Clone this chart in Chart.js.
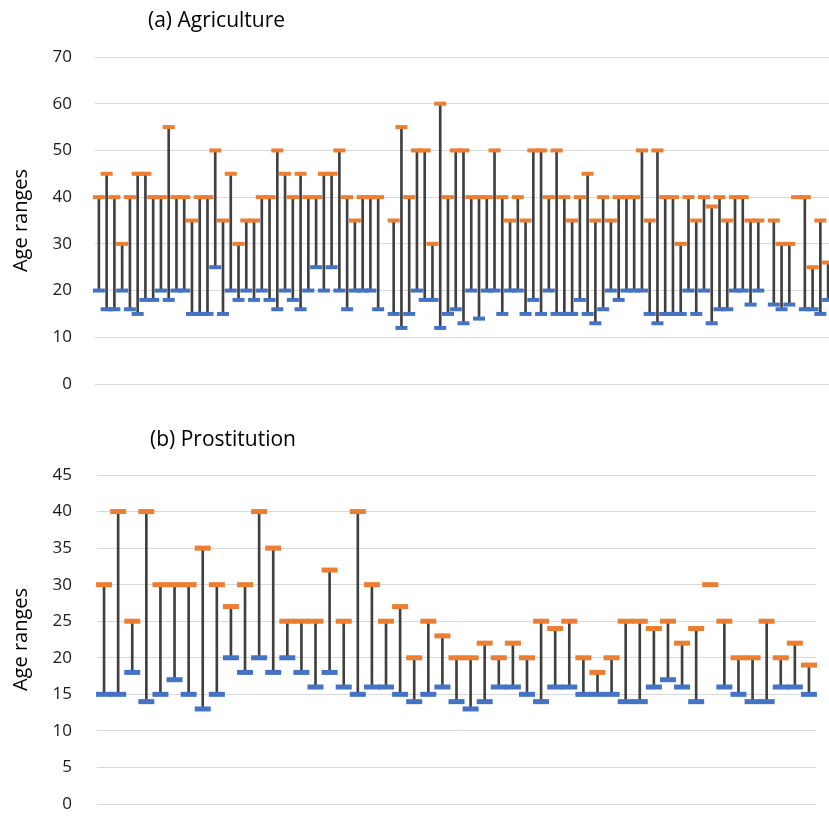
<!DOCTYPE html>
<html><head><meta charset="utf-8">
<script src="https://cdn.jsdelivr.net/npm/chart.js@4"></script>
<style>
html,body{margin:0;padding:0;overflow:hidden;background:#fff;width:829px;height:817px;position:relative;}
.t{position:absolute;font-family:'Open Sans',Lato,sans-serif;font-size:21px;color:#000;white-space:nowrap;line-height:26px;}
#ca{position:absolute;left:0;top:0;}
#cb{position:absolute;left:0;top:420px;}
</style></head><body>
<canvas id="ca" width="845" height="396"></canvas>
<canvas id="cb" width="829" height="397"></canvas>
<div class="t" style="left:148px;top:6px">(a) Agriculture</div>
<div class="t" style="left:150px;top:425px">(b) Prostitution</div>
<script>
// ---- Data: (a) Agriculture ----
const agriHigh = [40,45,40,30,40,45,45,40,40,55,40,40,35,40,40,50,35,45,30,35,35,40,40,50,45,40,45,40,40,45,45,50,
  40,35,40,40,40,null,35,55,40,50,50,30,60,40,50,50,40,40,40,50,40,35,40,35,50,50,40,50,40,35,
  40,45,35,40,35,40,40,40,50,35,50,40,40,30,40,35,40,38,40,35,40,40,35,35,null,35,30,30,40,40,25,35,26];
const agriLow = [20,16,16,20,16,15,18,18,20,18,20,20,15,15,15,25,15,20,18,20,18,20,18,16,20,18,16,20,25,20,25,20,
  16,20,20,20,16,null,15,12,15,20,18,18,12,15,16,13,20,14,20,20,15,20,20,15,18,15,20,15,15,15,
  18,15,13,16,20,18,20,20,20,15,13,15,15,15,20,15,20,13,16,16,20,20,17,20,null,17,16,17,null,16,16,15,18];
const agriCategories = agriHigh.map((_, i) => String(i + 1));
const agriTicks = [0,10,20,30,40,50,60,70];

// ---- Data: (b) Prostitution ----
const prosHigh = [30,40,25,40,30,30,30,35,30,27,30,40,35,25,25,25,32,25,40,30,25,27,20,25,23,20,20,22,20,22,20,25,24,25,20,18,20,25,25,24,25,22,24,30,25,20,20,25,20,22,19];
const prosLow  = [15,15,18,14,15,17,15,13,15,20,18,20,18,20,18,16,18,16,15,16,16,15,14,15,16,14,13,14,16,16,15,14,16,16,15,15,15,14,14,16,17,16,14,null,16,15,14,14,16,16,15];
const prosCategories = prosHigh.map((_, i) => String(i + 1));
const prosTicks = [0,5,10,15,20,25,30,35,40,45];

const HI = '#ED7D31', LO = '#4472C4', STEM = '#404040', GRID = '#d9d9d9';
const FONT = "'Open Sans'";

function ranges(lo, hi){ return lo.map((l, i) => (l != null && hi[i] != null) ? [l, hi[i]] : null); }

function makeChart(id, cats, lo, hi, ticks, opt){
  return new Chart(document.getElementById(id), {
    type: 'bar',
    data: {
      labels: cats,
      datasets: [
        {type:'bar', data: ranges(lo, hi), backgroundColor: STEM, borderWidth:0, barThickness:2, order:3},
        {type:'line', data: lo, showLine:false, pointStyle:'line', pointRadius:opt.r, pointHoverRadius:opt.r,
          pointBorderWidth:opt.w, pointHoverBorderWidth:opt.w, pointBorderColor:LO, pointBackgroundColor:LO, borderColor:LO, order:2},
        {type:'line', data: hi, showLine:false, pointStyle:'line', pointRadius:opt.r, pointHoverRadius:opt.r,
          pointBorderWidth:opt.w, pointHoverBorderWidth:opt.w, pointBorderColor:HI, pointBackgroundColor:HI, borderColor:HI, order:1}
      ]
    },
    options: {
      responsive:false, animation:false,
      layout:{padding:opt.pad},
      plugins:{legend:{display:false}, tooltip:{enabled:false}, title:{display:false}},
      scales:{
        x:{display:false, offset:true, grid:{display:false}},
        y:{min:ticks[0], max:ticks[ticks.length-1],
          ticks:{stepSize:ticks[1]-ticks[0], padding:0, color:'#1a1a1a', font:{family:FONT, size:17}},
          grid:{color:GRID, lineWidth:1, drawTicks:true, tickLength:opt.tl, tickColor:'rgba(0,0,0,0)'},
          border:{display:false},
          title:{display:true, text:'Age ranges', color:'#000', font:{family:FONT, size:20}, padding:{top:9.5, bottom:0}},
          afterFit(s){ s.width = opt.yw; }
        }
      }
    }
  });
}

makeChart('ca', agriCategories, agriLow, agriHigh, agriTicks,
  {r:6, w:4, pad:{left:0, top:57, right:13, bottom:12}, tl:23, yw:95});
makeChart('cb', prosCategories, prosLow, prosHigh, prosTicks,
  {r:8, w:5, pad:{left:0, top:55, right:12, bottom:10.5}, tl:25, yw:97});
</script>
</body></html>
